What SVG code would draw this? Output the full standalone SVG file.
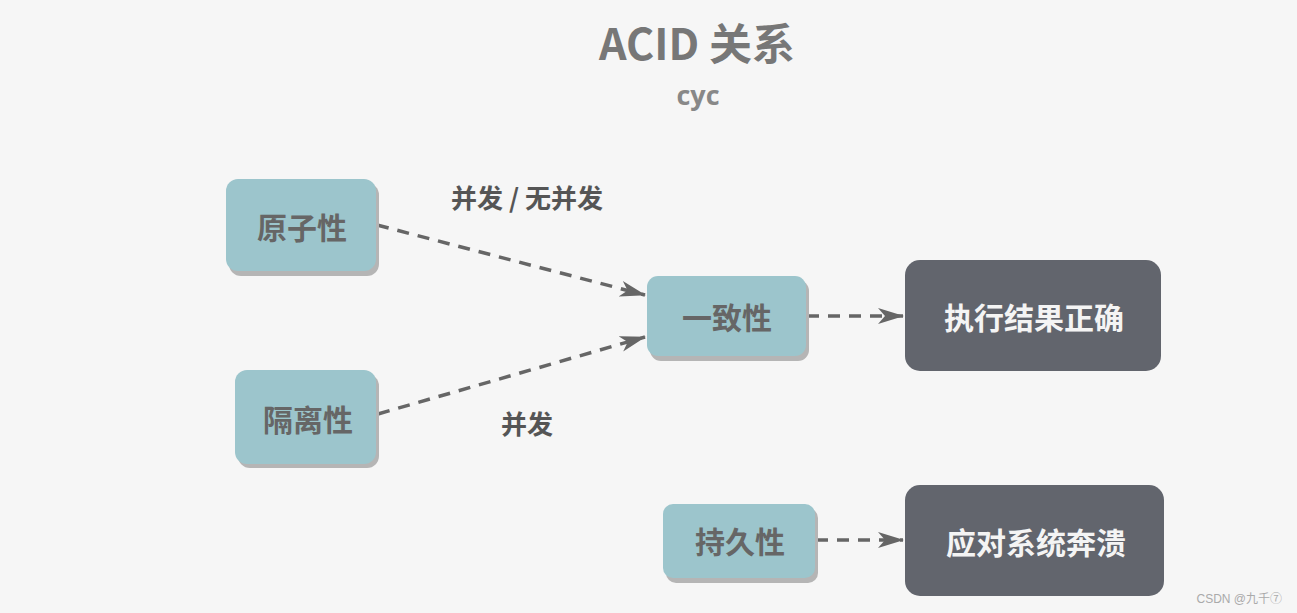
<svg xmlns="http://www.w3.org/2000/svg" width="1297" height="613" viewBox="0 0 1297 613">
<defs>
<style>
.cjk{font-family:"Noto Sans CJK SC","Liberation Sans",sans-serif;font-weight:bold}
.lb{fill:#9cc5cc}
.sh{fill:#b5b5b5}
.dk{fill:#62656d}
.nt{font-size:30px;fill:#666;text-anchor:middle}
.dt{font-size:30px;fill:#f4f4f4;text-anchor:middle}
.el{font-size:26px;fill:#555;text-anchor:middle}
.ed{fill:none;stroke:#666;stroke-width:3.5;stroke-dasharray:12 9}
</style>
<marker id="ah" viewBox="0 0 26 18" refX="25" refY="9" markerWidth="26" markerHeight="18" markerUnits="userSpaceOnUse" orient="auto">
<path d="M0,1 L26,9 L0,17 L7,9 Z" fill="#666"/>
</marker>
</defs>
<rect width="1297" height="613" fill="#f6f6f6"/>
<g id="title">
<text x="697" y="60" class="cjk" font-size="43" fill="#777" text-anchor="middle">ACID 关系</text>
<text x="698" y="105" font-family="'Open Sans','Liberation Sans',sans-serif" font-weight="bold" font-size="27" fill="#888" text-anchor="middle">cyc</text>
</g>
<g id="connectors">
<line class="ed" x1="377" y1="225" x2="645" y2="295" marker-end="url(#ah)"/>
<line class="ed" x1="378" y1="414" x2="645" y2="337" marker-end="url(#ah)"/>
<line class="ed" x1="807" y1="316" x2="903" y2="316" marker-end="url(#ah)"/>
<line class="ed" x1="816" y1="540" x2="903" y2="540" marker-end="url(#ah)"/>
<text class="cjk el" x="527" y="208">并发 / 无并发</text>
<text class="cjk el" x="527" y="434">并发</text>
</g>
<g id="n-atomicity">
<rect class="sh" x="229" y="183" width="150" height="93" rx="12"/>
<rect class="lb" x="226" y="179" width="150" height="92" rx="12"/>
<text class="cjk nt" x="302" y="239">原子性</text>
</g>
<g id="n-isolation">
<rect class="sh" x="238" y="374" width="141" height="94" rx="12"/>
<rect class="lb" x="235" y="370" width="141" height="94" rx="12"/>
<text class="cjk nt" x="308" y="431">隔离性</text>
</g>
<g id="n-consistency">
<rect class="sh" x="650" y="280" width="159" height="81" rx="11"/>
<rect class="lb" x="647" y="276" width="159" height="80" rx="11"/>
<text class="cjk nt" x="727" y="329">一致性</text>
</g>
<g id="n-durability">
<rect class="sh" x="666" y="508" width="152" height="75" rx="10"/>
<rect class="lb" x="663" y="504" width="152" height="74" rx="10"/>
<text class="cjk nt" x="740" y="553">持久性</text>
</g>
<g id="n-correct">
<rect class="dk" x="905" y="260" width="256" height="111" rx="15"/>
<text class="cjk dt" x="1034" y="329">执行结果正确</text>
</g>
<g id="n-crash">
<rect class="dk" x="905" y="485" width="259" height="111" rx="15"/>
<text class="cjk dt" x="1036" y="554">应对系统奔溃</text>
</g>
<text x="1282" y="603" font-family="'Liberation Sans','Noto Sans CJK SC',sans-serif" font-size="12" fill="#aaa" text-anchor="end">CSDN @九千⑦</text>
</svg>
